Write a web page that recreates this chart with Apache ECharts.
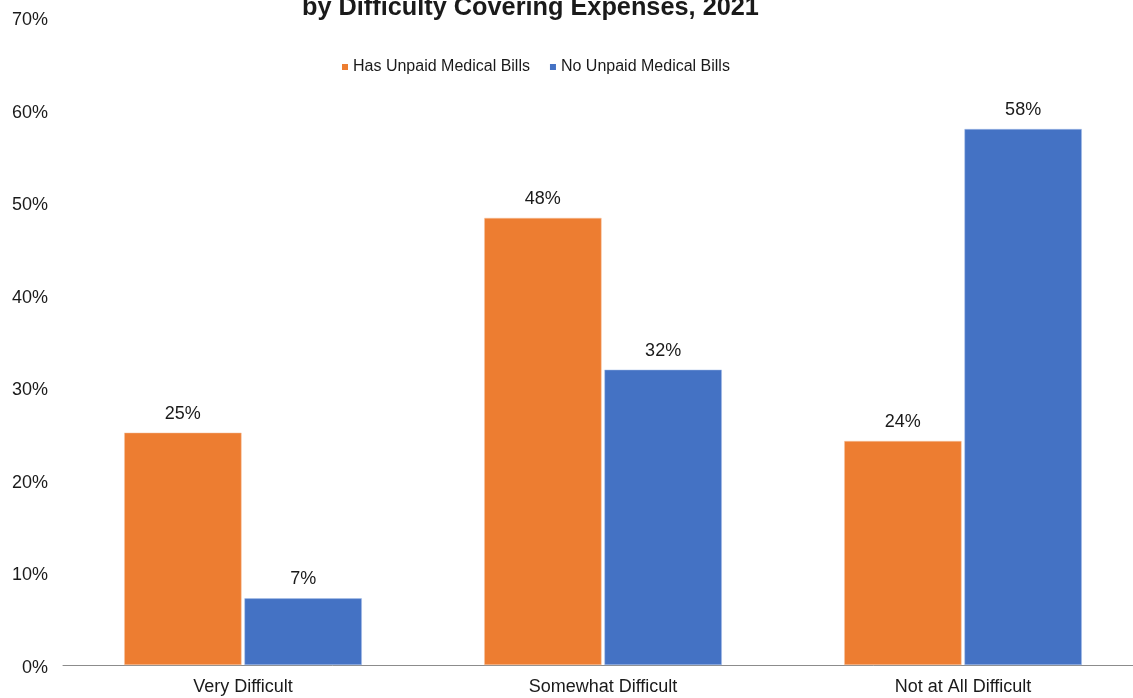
<!DOCTYPE html>
<html>
<head>
<meta charset="utf-8">
<script src="https://cdn.jsdelivr.net/npm/echarts@6/dist/echarts.min.js"></script>
<style>
  html, body { margin: 0; padding: 0; background: #fff; overflow: hidden; }
  #chart { width: 1143px; height: 698px; }
</style>
</head>
<body>
<div id="chart"></div>
<script>
// Share of adults by difficulty covering expenses
const categories = ['Very Difficult', 'Somewhat Difficult', 'Not at All Difficult'];
const hasUnpaid = [25.1, 48.3, 24.2];
const noUnpaid = [7.2, 31.9, 57.9];
const seriesNames = ['Has Unpaid Medical Bills', 'No Unpaid Medical Bills'];
const titleText = 'by Difficulty Covering Expenses, 2021';

const FONT = 'Liberation Sans, Arial, sans-serif';
const chart = echarts.init(document.getElementById('chart'));

const barLabel = {
  show: true,
  position: 'top',
  distance: 10,
  fontFamily: FONT,
  fontSize: 18,
  color: '#1a1a1a',
  formatter: p => Math.round(p.value) + '%'
};

chart.setOption({
  animation: false,
  title: {
    text: titleText,
    left: 297,
    top: -9,
    textStyle: { fontFamily: FONT, fontSize: 25.3, fontWeight: 'bold', color: '#1a1a1a' }
  },
  legend: {
    top: 54,
    left: 337,
    icon: 'rect',
    itemWidth: 6,
    itemHeight: 6,
    itemGap: 20,
    itemStyle: { borderWidth: 0 },
    textStyle: { fontFamily: FONT, fontSize: 16, color: '#1a1a1a' },
    data: seriesNames
  },
  grid: { left: 63, right: 0, top: 17, bottom: 33, containLabel: false },
  xAxis: {
    type: 'category',
    data: categories,
    axisLine: { lineStyle: { color: '#8c8c8c', width: 1 } },
    axisTick: { show: false },
    axisLabel: { fontFamily: FONT, fontSize: 18, color: '#1a1a1a', margin: 13 }
  },
  yAxis: {
    type: 'value',
    min: 0,
    max: 70,
    interval: 10,
    splitLine: { show: false },
    axisLine: { show: false },
    axisTick: { show: false },
    axisLabel: {
      margin: 15,
      formatter: v => '{t|' + v + '%}',
      rich: {
        t: {
          fontFamily: FONT, fontSize: 18, color: '#1a1a1a',
          lineHeight: 24, verticalAlign: 'bottom'
        }
      }
    }
  },
  series: [
    {
      name: seriesNames[0],
      type: 'bar',
      data: hasUnpaid,
      barGap: '2.5%',
      barCategoryGap: '34%',
      itemStyle: { color: '#ED7D31', borderColor: '#f6c9a8', borderWidth: 0.5 },
      label: barLabel
    },
    {
      name: seriesNames[1],
      type: 'bar',
      data: noUnpaid,
      barGap: '2.5%',
      barCategoryGap: '34%',
      itemStyle: { color: '#4472C4', borderColor: '#a9c1ea', borderWidth: 0.5 },
      label: barLabel
    }
  ]
});
</script>
</body>
</html>
